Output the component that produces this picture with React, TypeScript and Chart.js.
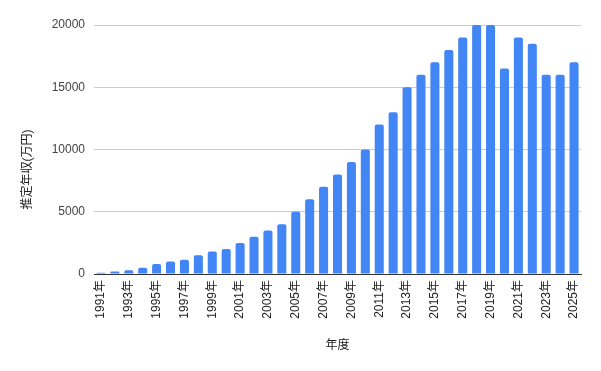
import React, { useEffect, useRef } from "react";
import { Chart, registerables } from "chart.js";

Chart.register(...registerables);

const years: string[] = [
  "1991年", "1992年", "1993年", "1994年", "1995年", "1996年", "1997年", "1998年", "1999年", "2000年",
  "2001年", "2002年", "2003年", "2004年", "2005年", "2006年", "2007年", "2008年", "2009年", "2010年",
  "2011年", "2012年", "2013年", "2014年", "2015年", "2016年", "2017年", "2018年", "2019年", "2020年",
  "2021年", "2022年", "2023年", "2024年", "2025年",
];

const income: number[] = [
  100, 200, 300, 500, 800, 1000, 1150, 1500, 1800, 2000,
  2500, 3000, 3500, 4000, 5000, 6000, 7000, 8000, 9000, 10000,
  12000, 13000, 15000, 16000, 17000, 18000, 19000, 20000, 20000, 16500,
  19000, 18500, 16000, 16000, 17000,
];

const yTicks: number[] = [0, 5000, 10000, 15000, 20000];

const FONT = "Arial, 'Liberation Sans', 'Noto Sans CJK JP', sans-serif";

export default function App() {
  const ref = useRef<HTMLCanvasElement | null>(null);

  useEffect(() => {
    if (!ref.current) return;
    const chart = new Chart(ref.current, {
      type: "bar",
      data: {
        labels: years,
        datasets: [
          {
            label: "推定年収(万円)",
            data: income,
            backgroundColor: "#4285F4",
            borderRadius: { topLeft: 2, topRight: 2, bottomLeft: 0, bottomRight: 0 },
            borderSkipped: "bottom",
            barPercentage: 0.65,
            categoryPercentage: 1,
          },
        ],
      },
      options: {
        animation: false,
        responsive: false,
        maintainAspectRatio: false,
        layout: { padding: { left: 0, top: 25, right: 20, bottom: 0 } },
        plugins: { legend: { display: false }, tooltip: { enabled: false } },
        scales: {
          x: {
            grid: { display: false, drawTicks: false },
            border: { display: true, color: "#333333", width: 1 },
            ticks: {
              autoSkip: false,
              minRotation: 90,
              maxRotation: 90,
              padding: 6,
              color: "#222222",
              font: { family: FONT, size: 12 },
              callback: (_v: any, i: number) => (i % 2 === 0 ? years[i] : ""),
            },
            title: {
              display: true,
              text: "年度",
              color: "#222222",
              font: { family: FONT, size: 12 },
              padding: { top: 4, bottom: 18 },
            },
            afterFit: (s: any) => {
              s.height = 97;
            },
          },
          y: {
            min: 0,
            max: 20000,
            afterBuildTicks: (s: any) => {
              s.ticks = yTicks.map((v) => ({ value: v }));
            },
            grid: { color: "#cccccc", drawTicks: false },
            border: { display: false },
            ticks: {
              padding: 9,
              color: "#444444",
              font: { family: FONT, size: 12 },
              callback: (v: any) => String(v),
            },
            title: {
              display: true,
              text: "推定年収(万円)" + "            ",
              color: "#222222",
              font: { family: FONT, size: 12 },
              padding: { top: 20, bottom: 4 },
            },
            afterFit: (s: any) => {
              s.width = 94;
            },
          },
        },
      },
    });
    return () => chart.destroy();
  }, []);

  return (
    <div style={{ position: "fixed", left: 0, top: 0, width: 601, height: 371, background: "#ffffff" }}>
      <canvas ref={ref} width={601} height={371} style={{ display: "block" }} />
    </div>
  );
}
